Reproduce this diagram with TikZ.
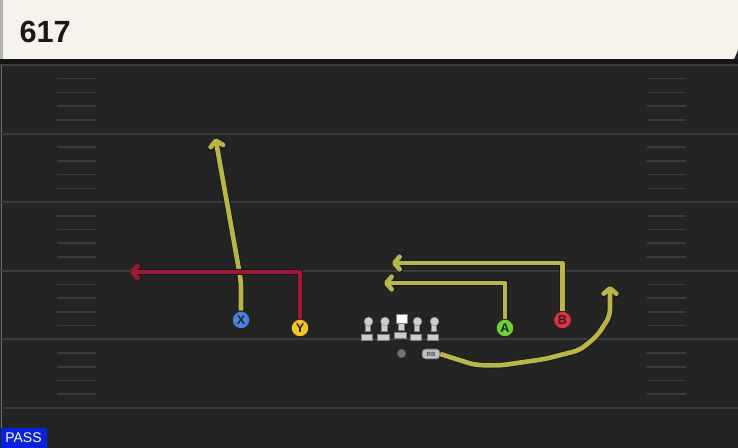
\documentclass[tikz,border=0pt]{standalone}
\usepackage{fontspec}
\setmainfont{Liberation Sans}
\usetikzlibrary{arrows.meta}
\definecolor{field}{RGB}{36,36,36}
\definecolor{yardline}{RGB}{60,60,60}
\definecolor{hashmark}{RGB}{60,60,60}
\definecolor{cream}{RGB}{245,243,236}
\definecolor{olive}{RGB}{186,181,74}
\definecolor{crimson}{RGB}{160,24,56}
\definecolor{xblue}{RGB}{70,132,224}
\definecolor{ygold}{RGB}{244,196,36}
\definecolor{agreen}{RGB}{108,212,58}
\definecolor{bred}{RGB}{226,48,62}
\definecolor{passblue}{RGB}{10,34,222}
\definecolor{olgray}{RGB}{205,205,205}
\tikzset{every picture/.style={line width=0.75pt}}

\begin{document}
\begin{tikzpicture}[x=0.75pt,y=0.75pt,yscale=-1,xscale=1,
  player/.style={circle,draw=black!85,line width=0.7pt,minimum size=13.2pt,inner sep=0pt,
    font=\bfseries\fontsize{9.5}{9.5}\selectfont,text=black!85},
  route/.style={line width=3.5pt,line join=round,-{Straight Barb[length=4pt,width=9.5pt,round]},
    preaction={draw=black!90,line width=4.9pt}},
  lineman/.style={fill=olgray,draw=black!50,line width=0.3pt}]
\useasboundingbox (0,0) rectangle (738,448);
%Field
\fill[field] (0,0) rectangle (738,448);
\draw[black!55,line width=1.2pt] (1.5,60) -- (1.5,448);
%Yard lines
\foreach \y in {65,133.6,202.2,270.8,339.4,408}
  \draw[yardline,line width=1.5pt] (0,\y) -- (738,\y);
%Hash marks
\foreach \y in {65,133.6,202.2,270.8,339.4}
  \foreach \k in {1,...,4} {
    \draw[hashmark,line width=1.2pt] (57,\y+13.7*\k) -- (96,\y+13.7*\k);
    \draw[hashmark,line width=1.2pt] (647,\y+13.7*\k) -- (686,\y+13.7*\k);
  }
%Header
\fill[black!92] (0,59) rectangle (738,64);
\fill[cream] (0,0) -- (738,0) -- (738,50) -- (734,59) -- (0,59) -- cycle;
\fill[black!30] (0,0) rectangle (3,59);
% Text Node
\node[anchor=west,inner sep=0pt,font=\bfseries\fontsize{23}{23}\selectfont,text=black!90] (title) at (19,32) {617};
% Text Node
\node[anchor=south west,fill=passblue,text=white,inner sep=0pt,minimum width=34.5pt,minimum height=15pt,
  font=\fontsize{10.5}{10.5}\selectfont] (mode) at (0,448) {PASS};

%Offensive line
\foreach \x/\n in {368.5/lt,385/lg,417.5/rg,434.5/rt} {
  \coordinate (\n) at (\x,321.5);
  \fill[lineman] ([xshift=-2.8]\n) rectangle ++(5.6,10);
  \fill[lineman] ([xshift=-5.8,yshift=9.3]\n) rectangle ++(11.6,6.7);
  \fill[lineman] (\n) circle[radius=4.4];
}
\coordinate (c) at (402,321.5);
\fill[lineman] ([xshift=-2.8]c) rectangle ++(5.6,8.5);
\fill[lineman] ([xshift=-5.8,yshift=7.8]c) rectangle ++(11.6,6.7);
\fill[white,draw=black!50,line width=0.3pt] (396.5,314) rectangle (407.5,323.3);

%Backs
\node[circle,fill=black!55,draw=black!70,line width=0.3pt,minimum size=6.5pt,inner sep=0pt] (QB) at (401.5,353.5) {};
\node[rounded corners=2.5pt,fill=black!25,draw=black!70,line width=0.4pt,minimum width=13.5pt,minimum height=7.5pt,
  inner sep=0pt,font=\bfseries\fontsize{4.5}{4.5}\selectfont,text=black!70] (RB) at (431,354) {RB};

%Receivers
\node[player,fill=xblue] (X) at (241,320) {X};
\node[player,fill=ygold] (Y) at (300,328) {Y};
\node[player,fill=agreen] (A) at (505,328) {A};
\node[player,fill=bred] (B) at (562.5,320) {B};

%Routes
\coordinate (xbrk) at (241,288);
\coordinate (xtip) at (215.5,138.5);
\coordinate (ytip) at (130,272);
\coordinate (atip) at (384,283);
\coordinate (btip) at (392,263);
\coordinate (rbtip) at (610,286);
\draw[route,olive] (X.north) -- (xbrk) .. controls (241,281) and (240,276) .. (239,270) -- (xtip);
\draw[route,crimson] (Y.north) |- (ytip);
\draw[route,olive] (A.north) |- (atip);
\draw[route,olive] (B.north) |- (btip);
\draw[route,olive,rounded corners=5pt] (RB.east) -- (475,365) -- (500,365.5) -- (545,359) -- (580,350)
  -- (597,336) -- (610,316) -- (rbtip);

\end{tikzpicture}
\end{document}
